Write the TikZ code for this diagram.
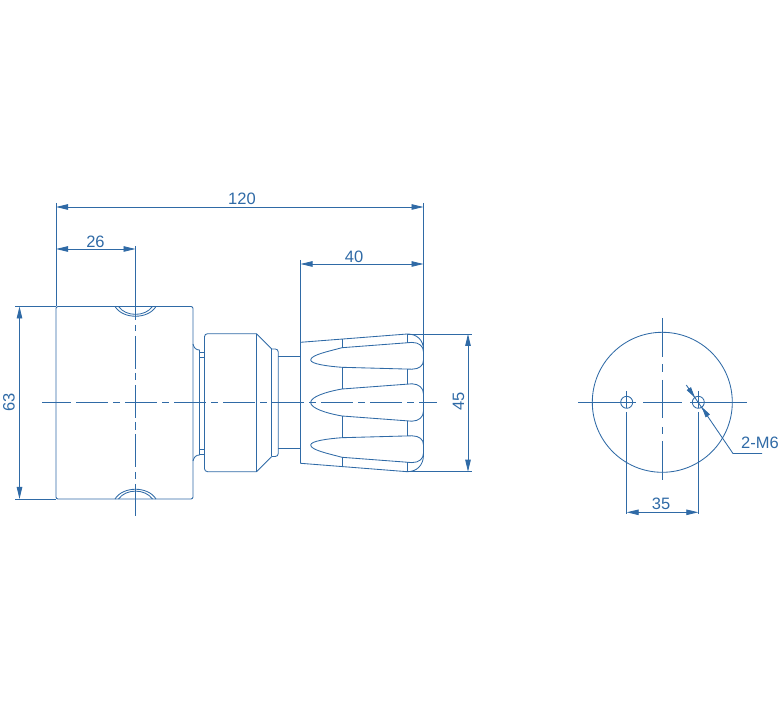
\documentclass[tikz,border=0pt]{standalone}
\usepackage{fontspec}
\setmainfont{Liberation Sans}
\usetikzlibrary{arrows.meta}
\definecolor{drawblue}{HTML}{2F6AA6}
\tikzset{
  outline/.style={drawblue, line width=0.85pt, line join=round},
  centerline/.style={drawblue, line width=0.8pt},
  dimline/.style={drawblue, line width=0.85pt, {Triangle[length=12pt,width=5.5pt]}-{Triangle[length=12pt,width=5.5pt]}},
  calloutline/.style={drawblue, line width=0.85pt, -{Triangle[length=11pt,width=5pt]}},
  extline/.style={drawblue, line width=0.85pt},
  dimtext/.style={text=drawblue, font=\fontsize{16.5}{16.5}\selectfont, inner sep=0pt},
}
\begin{document}
\begin{tikzpicture}[x=1pt, y=-1pt]
  \useasboundingbox (0, 0) rectangle (780, 708);

  % body
  \draw [outline, rounded corners=2pt] (56, 306.5) rectangle (193, 499);
  \draw [outline] (115, 306.5) .. controls (123, 319.5) and (148, 319.5) .. (156, 306.5);
  \draw [outline] (118.5, 306.5) .. controls (126, 317) and (145, 317) .. (152.5, 306.5);
  \draw [outline] (115, 499) .. controls (123, 486) and (148, 486) .. (156, 499);
  \draw [outline] (118.5, 499) .. controls (126, 488.5) and (145, 488.5) .. (152.5, 499);

  % neck and collar
  \draw [outline] (193, 344) .. controls (194, 348) and (196, 350) .. (199.5, 350) -- (199.5, 455)
    .. controls (196, 455) and (194, 457) .. (193, 461);
  \draw [outline] (199.5, 352) rectangle (204.5, 357);
  \draw [outline] (199.5, 449) rectangle (204.5, 454);
  \draw [outline, rounded corners=3pt] (256.5, 333.7) -- (204.5, 333.7) -- (204.5, 471.7) -- (256.5, 471.7);
  \draw [outline] (256.5, 333.7) -- (256.5, 471.7);
  \draw [outline] (256.5, 333.7) -- (271.7, 349);
  \draw [outline] (256.5, 471.7) -- (271.7, 456.5);
  \draw [outline] (271.7, 349) -- (271.7, 456.5);
  \draw [outline, rounded corners=3pt] (271.7, 349) -- (278.3, 349) -- (278.3, 456.5) -- (271.7, 456.5);
  \draw [outline] (278.3, 356.7) -- (300.5, 356.7);
  \draw [outline] (278.3, 448.3) -- (300.5, 448.3);

  % knob
  \draw [outline] (300.5, 342.3) -- (407.3, 334) .. controls (417, 334) and (423.5, 340) .. (423.5, 350)
    -- (423.5, 455) .. controls (423.5, 465) and (417, 471.7) .. (407.3, 471.7) -- (300.5, 463.3) -- cycle;

  \draw [outline] (342, 339) -- (342, 347.7);
  \draw [outline] (342, 367.3) -- (342, 389);
  \draw [outline] (342, 416) -- (342, 437.7);
  \draw [outline] (342, 457.3) -- (342, 466.5);
  \draw [outline] (407.3, 334) -- (407.3, 342.7);
  \draw [outline] (407.3, 368.8) -- (407.3, 384);
  \draw [outline] (407.3, 421) -- (407.3, 436.2);
  \draw [outline] (407.3, 462.3) -- (407.3, 471.7);

  % grooves
  \draw [outline] (342, 347.7) .. controls (328, 351.5) and (310.7, 355) .. (310.7, 360)
    .. controls (310.7, 364) and (328, 366.3) .. (342, 367.3) -- (412, 369.2)
    .. controls (419, 369) and (423.5, 366) .. (423.5, 360) -- (423.5, 352)
    .. controls (423.5, 346) and (419, 342.5) .. (412, 342.4) -- cycle;
  \draw [outline] (342, 389) .. controls (325, 392) and (310.7, 397) .. (310.7, 402.5)
    .. controls (310.7, 408) and (325, 413) .. (342, 416) -- (412, 421.2)
    .. controls (419, 421) and (423.5, 417) .. (423.5, 411) -- (423.5, 394)
    .. controls (423.5, 388) and (419, 384) .. (412, 383.8) -- cycle;
  \draw [outline] (342, 437.7) .. controls (328, 438.7) and (310.7, 441) .. (310.7, 445)
    .. controls (310.7, 450) and (328, 453.5) .. (342, 457.3) -- (412, 462.6)
    .. controls (419, 462.5) and (423.5, 459) .. (423.5, 453) -- (423.5, 445)
    .. controls (423.5, 439) and (419, 436) .. (412, 435.8) -- cycle;

  % center lines, side view
  \draw [centerline, dash pattern=on 29pt off 5pt on 32pt off 5pt on 7pt off 5pt on 32pt off 5pt on 7pt off 5pt
    on 32pt off 5pt on 7pt off 5pt on 32pt off 5pt on 7pt off 5pt on 32pt off 5pt on 7pt off 5pt
    on 32pt off 5pt on 7pt off 5pt on 32pt off 5pt on 7pt off 5pt on 60pt]
    (42, 402.5) -- (437, 402.5);
  \draw [centerline, dash pattern=on 74pt off 5pt on 6pt off 5pt on 33pt off 4pt on 7pt off 5pt
    on 33pt off 4pt on 8pt off 4pt on 33pt off 5pt on 7pt off 5pt on 40pt]
    (135.5, 246) -- (135.5, 516);

  % dimensions, side view
  \draw [extline] (56, 203) -- (56, 306.5);
  \draw [extline] (423.5, 203) -- (423.5, 350);
  \draw [extline] (300.5, 260) -- (300.5, 342.3);
  \draw [extline] (15, 306.5) -- (56, 306.5);
  \draw [extline] (15, 499) -- (56, 499);
  \draw [extline] (407.3, 334) -- (472, 334);
  \draw [extline] (407.3, 471.7) -- (472, 471.7);

  \draw [dimline] (56, 207) -- (423.5, 207);
  \node [dimtext] (dim120) at (242, 198.5) {120};
  \draw [dimline] (56, 249) -- (135.5, 249);
  \node [dimtext] (dim26) at (95.5, 241.5) {26};
  \draw [dimline] (300.5, 264) -- (423.5, 264);
  \node [dimtext] (dim40) at (354, 256.5) {40};
  \draw [dimline] (19.5, 306.5) -- (19.5, 499);
  \node [dimtext, rotate=90] (dim63) at (9, 402) {63};
  \draw [dimline] (468, 334) -- (468, 471.7);
  \node [dimtext, rotate=90] (dim45) at (458.5, 401) {45};

  % end view
  \draw [outline] (662.3, 402.3) circle [radius=70];
  \draw [outline] (626.7, 402.3) circle [radius=6];
  \draw [outline] (698.3, 402.3) circle [radius=6];
  \draw [centerline, dash pattern=on 58pt off 7pt on 39pt off 8pt on 60pt] (578, 402.3) -- (747, 402.3);
  \draw [centerline, dash pattern=on 39pt off 7pt on 8pt off 8pt on 38pt off 9pt on 7pt off 7pt on 40pt] (662.3, 318) -- (662.3, 480);
  \draw [extline] (626.7, 391) -- (626.7, 408);
  \draw [extline] (698.3, 391) -- (698.3, 408);
  \draw [extline] (626.7, 412) -- (626.7, 514);
  \draw [extline] (698.3, 412) -- (698.3, 514);
  \draw [dimline] (626.7, 512.3) -- (698.3, 512.3);
  \node [dimtext] (dim35) at (661, 503.5) {35};

  % hole callout
  \draw [extline] (686.3, 385) -- (733, 453.5) -- (762, 453.5);
  \draw [calloutline] (688.5, 388.2) -- (695, 397.7);
  \draw [calloutline] (708, 416.2) -- (701.6, 406.8);
  \node [dimtext] (labelM) at (760, 443) {2-M6};
\end{tikzpicture}
\end{document}
